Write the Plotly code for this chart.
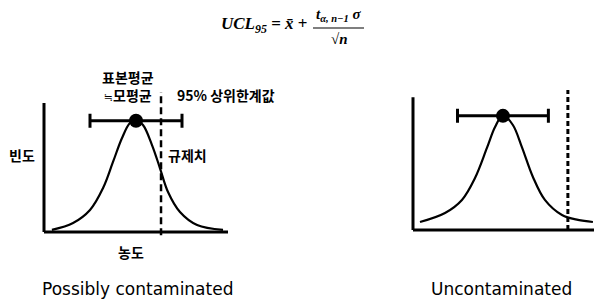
import plotly.graph_objects as go

# ---------------- data ----------------
# left panel: "Possibly contaminated"
left_x = [0.43, 1.58, 2.50, 3.21, 3.75, 4.24, 4.67, 5.00, 5.38, 5.87, 6.30, 6.74, 7.39, 8.32, 9.73]
left_y = [0.016, 0.070, 0.171, 0.341, 0.543, 0.729, 0.845, 0.868, 0.829, 0.674, 0.496, 0.310, 0.155, 0.054, 0.016]
left_mean = 5.0
left_mean_y = 0.862
left_ci = 2.5
left_limit = 6.36

# right panel: "Uncontaminated"
right_x = [0.38, 1.74, 2.66, 3.37, 4.02, 4.46, 4.89, 5.43, 5.92, 6.52, 7.17, 8.10, 8.97, 9.78]
right_y = [0.062, 0.132, 0.233, 0.403, 0.636, 0.798, 0.891, 0.814, 0.643, 0.411, 0.233, 0.116, 0.078, 0.062]
right_mean = 4.89
right_mean_y = 0.885
right_ci = 2.47
right_limit = 8.42

panel_titles = ["Possibly contaminated", "Uncontaminated"]
korean_labels = ["표본평균", "모평균", "95% 상위한계값", "빈도", "규제치", "농도"]
approx_sign = "≒"

# ---------------- figure ----------------
W, H = 594, 301
def px(x):
    return x / W
def py(y):
    return 1 - y / H

fig = go.Figure()

curve_style = dict(color="black", width=2.2)

fig.add_trace(go.Scatter(x=left_x, y=left_y, mode="lines", line=dict(shape="spline", smoothing=1.0, **curve_style),
                         xaxis="x", yaxis="y", hoverinfo="skip"))
fig.add_trace(go.Scatter(x=[left_mean], y=[left_mean_y], mode="markers",
                         marker=dict(color="black", size=14),
                         error_x=dict(type="data", array=[left_ci], symmetric=True, thickness=3, width=7, color="black"),
                         xaxis="x", yaxis="y", hoverinfo="skip"))

fig.add_trace(go.Scatter(x=right_x, y=right_y, mode="lines", line=dict(shape="spline", smoothing=1.0, **curve_style),
                         xaxis="x2", yaxis="y2", hoverinfo="skip"))
fig.add_trace(go.Scatter(x=[right_mean], y=[right_mean_y], mode="markers",
                         marker=dict(color="black", size=14),
                         error_x=dict(type="data", array=[right_ci], symmetric=True, thickness=3, width=7, color="black"),
                         xaxis="x2", yaxis="y2", hoverinfo="skip"))

axis_common = dict(showgrid=False, zeroline=False, showticklabels=False, ticks="", showline=False, fixedrange=True)

# left subplot: x px = 44 + 18.4*x ; y px = 232 - 129*y
lx0, lx1 = -0.3, 10.5
ly0, ly1 = -0.05, 1.12
# right subplot: x px = 413 + 18.4*x ; y px = 230 - 129*y
rx0, rx1 = -0.3, 9.84
ry0, ry1 = -0.05, 1.12

fig.update_layout(
    width=W, height=H,
    margin=dict(l=0, r=0, t=0, b=0),
    paper_bgcolor="white", plot_bgcolor="rgba(0,0,0,0)",
    showlegend=False,
    xaxis=dict(domain=[px(44 + 18.4 * lx0), px(44 + 18.4 * lx1)], range=[lx0, lx1], **axis_common),
    yaxis=dict(domain=[py(232 - 129 * ly0), py(232 - 129 * ly1)], range=[ly0, ly1], **axis_common),
    xaxis2=dict(domain=[px(413 + 18.4 * rx0), 1.0], range=[rx0, rx1], anchor="y2", **axis_common),
    yaxis2=dict(domain=[py(230 - 129 * ry0), py(230 - 129 * ry1)], range=[ry0, ry1], anchor="x2", **axis_common),
)

axis_line = dict(color="black", width=3)
dash_line = dict(color="black", width=2.5, dash="7px,4px")
shapes = [
    # left axes
    dict(type="line", xref="x", yref="y", x0=0, x1=10, y0=0, y1=0, line=axis_line),
    dict(type="line", xref="x", yref="y", x0=0, x1=0, y0=0, y1=1.0, line=axis_line),
    dict(type="line", xref="x", yref="y", x0=left_limit, x1=left_limit, y0=-0.025, y1=1.085, line=dash_line),
    # right axes
    dict(type="line", xref="x2", yref="y2", x0=0, x1=rx1, y0=0, y1=0, line=axis_line),
    dict(type="line", xref="x2", yref="y2", x0=0, x1=0, y0=0, y1=1.03, line=axis_line),
    dict(type="line", xref="x2", yref="y2", x0=right_limit, x1=right_limit, y0=0, y1=1.085,
         line=dict(color="black", width=3, dash="5px,3px")),
    # fraction bar of formula
    dict(type="line", xref="paper", yref="paper", x0=px(313), x1=px(364), y0=py(28), y1=py(28),
         line=dict(color="black", width=1.2)),
]
fig.update_layout(shapes=shapes)

kfont = dict(family="Noto Sans CJK KR", size=14, color="black")
efont = dict(family="DejaVu Sans", size=17, color="black")
mfont = dict(family="Liberation Serif", size=17, color="black")
mfont_s = dict(family="Liberation Serif", size=15, color="black")

def ann(text, x, y, xanchor="center", font=kfont):
    return dict(text=text, x=px(x), y=py(y), xref="paper", yref="paper", xanchor=xanchor, yanchor="middle",
                showarrow=False, font=font)

annotations = [
    ann("<b>" + korean_labels[0] + "</b><br><span style='font-family:DejaVu Sans;font-size:11px'>" + approx_sign
        + "</span><b>" + korean_labels[1] + "</b>", 128, 86),
    ann("<b>" + korean_labels[2] + "</b>", 175, 95, xanchor="left"),
    ann("<b>" + korean_labels[3] + "</b>", 22, 155),
    ann("<b>" + korean_labels[4] + "</b>", 166, 155, xanchor="left"),
    ann("<b>" + korean_labels[5] + "</b>", 131, 252),
    ann(panel_titles[0], 137, 289, font=efont),
    ann(panel_titles[1], 501, 289, font=efont),
    # formula
    ann("<b><i>UCL</i></b><sub><b><i>95</i></b></sub><b> = <i>x̄</i> + </b>", 266, 25, font=mfont),
    ann("<b><i>t</i></b><sub><b><i>α, n−1</i></b></sub><b> <i>σ</i></b>", 338, 15, font=mfont_s),
    ann("<b>√<i>n</i></b>", 339, 39, font=mfont_s),
]
fig.update_layout(annotations=annotations)

fig.write_html("out.html", config={"displayModeBar": False, "staticPlot": True},
               post_script="document.body.style.margin='0';document.body.style.padding='0';")
